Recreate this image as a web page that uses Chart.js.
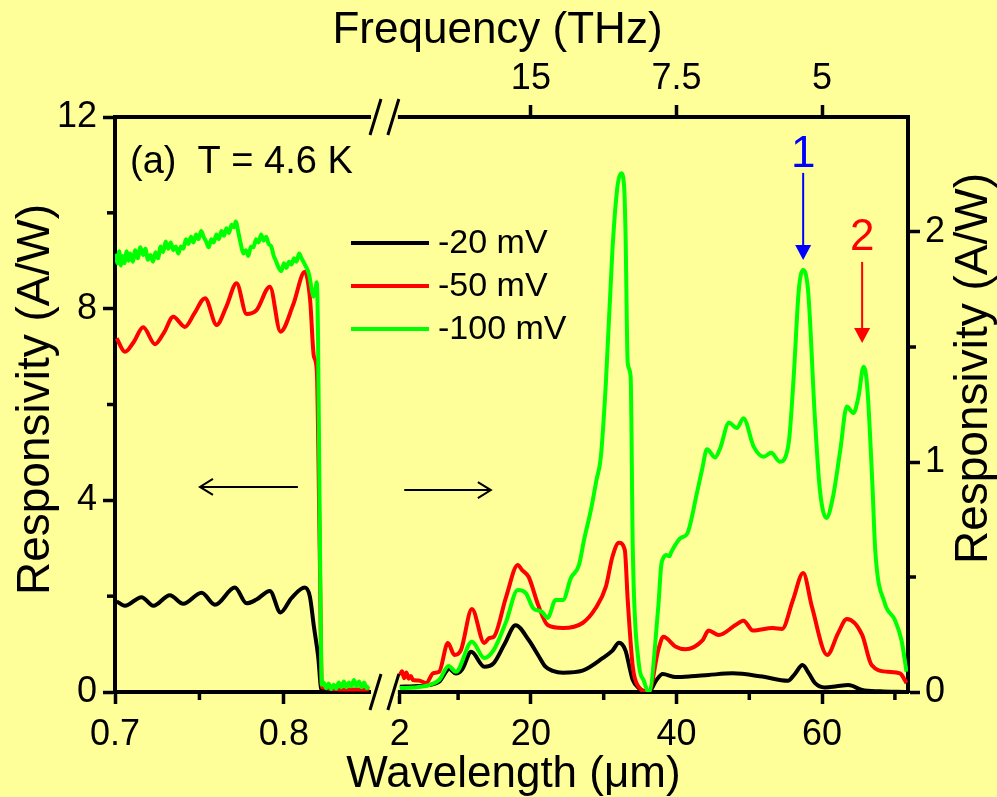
<!DOCTYPE html>
<html>
<head>
<meta charset="utf-8">
<script src="https://cdn.jsdelivr.net/npm/chart.js@4.4.1/dist/chart.umd.min.js"></script>
<style>
  html, body { margin: 0; padding: 0; background: #ffff99; }
  #wrap { width: 997px; height: 797px; }
</style>
</head>
<body>
<div id="wrap"><canvas id="respChart" width="997" height="797"></canvas></div>
<script>
// series
const seriesLabels = ['-20 mV', '-50 mV', '-100 mV'];
const seriesColors = ['#000000', '#ff0000', '#00ff00'];

// left part: 0.7 - 0.85 um, read against the left axis (A/W)
const leftWl20 = [0.701, 0.7059, 0.7157, 0.7227, 0.7325, 0.7404, 0.7513, 0.7592, 0.771, 0.7779, 0.7838, 0.7917, 0.798, 0.8045, 0.8124, 0.8154, 0.8178, 0.8203, 0.8223, 0.835, 0.8505];
const leftR20 = [1.89, 1.80, 1.98, 1.80, 2.02, 1.84, 2.07, 1.82, 2.18, 1.85, 1.93, 2.11, 1.66, 1.96, 2.18, 1.99, 1.36, 0.74, 0.04, 0.02, 0.02];

const leftWl50 = [0.701, 0.7059, 0.711, 0.7167, 0.7237, 0.729, 0.7345, 0.7414, 0.747, 0.7533, 0.7602, 0.766, 0.772, 0.7779, 0.7838, 0.7917, 0.798, 0.8055, 0.8124, 0.8155, 0.8178, 0.8195, 0.8212, 0.8225, 0.835, 0.8505];
const leftR50 = [7.38, 7.10, 7.30, 7.61, 7.26, 7.50, 7.83, 7.62, 7.90, 8.22, 7.66, 8.05, 8.53, 7.89, 7.97, 8.46, 7.52, 8.08, 8.77, 8.20, 7.00, 6.70, 3.00, 0.10, 0.05, 0.05];

const leftWl100 = [0.7005, 0.7015, 0.7025, 0.7035, 0.7045, 0.7055, 0.707, 0.708, 0.709, 0.7105, 0.712, 0.7135, 0.715, 0.7166, 0.718, 0.7195, 0.721, 0.7225, 0.724, 0.7255,
  0.727, 0.7285, 0.73, 0.7315, 0.733, 0.7345, 0.736, 0.7375, 0.739, 0.7405, 0.742, 0.7435, 0.745, 0.7465, 0.748, 0.7495, 0.751, 0.7525, 0.754, 0.7555,
  0.757, 0.7585, 0.76, 0.7615, 0.763, 0.7645, 0.766, 0.7675, 0.769, 0.7705, 0.7715, 0.773, 0.7745, 0.776, 0.7775, 0.779, 0.7805, 0.782, 0.7835, 0.785,
  0.7865, 0.788, 0.7895, 0.791, 0.7925, 0.794, 0.7955, 0.797, 0.7985, 0.8, 0.8015, 0.803, 0.8045, 0.806, 0.8075, 0.809, 0.8105, 0.812, 0.8135, 0.815,
  0.8165, 0.8175, 0.8185, 0.8195, 0.8202, 0.821, 0.8218, 0.8225, 0.8235, 0.825, 0.8265, 0.828, 0.8295, 0.831, 0.8325, 0.834, 0.8355, 0.837, 0.8385, 0.84,
  0.8415, 0.843, 0.8445, 0.846, 0.8475, 0.849, 0.8505];
const leftR100 = [9.15, 8.95, 9.20, 8.90, 9.10, 8.95, 9.20, 9.00, 9.15, 8.98, 9.22, 9.05, 9.28, 9.12, 9.25, 9.02, 9.12, 8.98, 9.18, 9.05,
  9.30, 9.18, 9.40, 9.25, 9.38, 9.22, 9.30, 9.15, 9.30, 9.25, 9.45, 9.35, 9.50, 9.38, 9.55, 9.45, 9.62, 9.50, 9.40, 9.28,
  9.45, 9.38, 9.55, 9.45, 9.62, 9.52, 9.68, 9.58, 9.75, 9.70, 9.82, 9.60, 9.35, 9.15, 9.22, 9.10, 9.30, 9.28, 9.45, 9.38,
  9.55, 9.42, 9.50, 9.35, 9.30, 9.10, 8.98, 8.85, 8.78, 8.95, 8.85, 8.98, 8.92, 9.05, 8.98, 9.15, 9.05, 8.95, 8.85, 8.70,
  8.40, 8.25, 8.35, 8.55, 7.50, 4.50, 1.50, 0.15, 0.20, 0.08, 0.18, 0.06, 0.15, 0.07, 0.20, 0.10, 0.22, 0.10, 0.20, 0.12,
  0.25, 0.12, 0.22, 0.10, 0.20, 0.08, 0.12];

// right part: 2 - 72 um, read against the right axis (A/W)
const rightWl20 = [2.0, 4.0, 6.0, 7.4, 8.8, 9.7, 10.6, 11.8, 13.6, 14.9, 16.4, 17.9, 19.7, 21.0, 22.0, 23.0, 24.4, 27.1, 29.9, 31.2, 32.1, 33.0, 33.6, 34.0, 34.8, 36.2, 37.2, 38.1, 39.9, 42.0, 44.4, 47.7, 51.8, 55.3, 56.3, 57.3, 58.2, 59.0, 60.4, 62.0, 63.6, 65.5, 68.0, 71.4];
const rightR20 = [0.023, 0.025, 0.030, 0.045, 0.100, 0.080, 0.100, 0.175, 0.110, 0.126, 0.210, 0.290, 0.226, 0.160, 0.110, 0.092, 0.084, 0.093, 0.148, 0.180, 0.214, 0.180, 0.100, 0.052, 0.017, 0.000, 0.050, 0.078, 0.065, 0.068, 0.074, 0.081, 0.067, 0.049, 0.080, 0.117, 0.080, 0.040, 0.020, 0.025, 0.030, 0.009, 0.003, 0.000];

const rightWl50 = [2.0, 2.3, 2.6, 2.9, 3.2, 3.5, 3.8, 4.6, 5.6, 6.6, 7.4, 8.6, 9.5, 10.4, 11.9, 13.6, 14.3, 14.9, 16.6, 18.2, 18.8, 19.7, 21.0, 22.3, 24.4, 27.1, 28.9, 30.3, 31.2, 32.1, 32.9, 33.3, 34.0, 34.8, 36.2, 37.5, 38.2, 39.9, 41.2, 43.6, 44.4, 45.8, 48.1, 49.2, 50.5, 53.2, 54.5, 56.0, 57.4, 58.6, 60.7, 62.2, 63.4, 65.5, 66.8, 69.0, 70.7, 71.6];
const rightR50 = [0.074, 0.090, 0.060, 0.085, 0.058, 0.070, 0.052, 0.050, 0.039, 0.082, 0.088, 0.213, 0.161, 0.183, 0.361, 0.213, 0.235, 0.240, 0.414, 0.552, 0.530, 0.500, 0.378, 0.291, 0.278, 0.300, 0.365, 0.458, 0.588, 0.649, 0.617, 0.400, 0.109, 0.023, 0.000, 0.183, 0.240, 0.197, 0.186, 0.226, 0.267, 0.248, 0.291, 0.310, 0.267, 0.278, 0.274, 0.400, 0.517, 0.371, 0.161, 0.256, 0.317, 0.248, 0.117, 0.088, 0.081, 0.039];

const rightWl100 = [2.0, 4.0, 6.0, 7.4, 8.7, 9.7, 11.9, 13.6, 14.9, 16.6, 18.2, 19.3, 20.3, 21.5, 22.3, 23.4, 24.4, 25.5, 26.6, 27.3, 28.3, 29.0, 29.6, 30.3, 31.2, 31.9, 32.4, 32.8, 33.0, 33.3, 33.7, 34.0, 34.8, 35.5, 36.2, 37.5, 37.9, 38.2, 38.6, 39.0, 39.3, 40.3, 40.6, 41.5, 42.8, 43.5, 44.2, 45.3, 46.0, 47.2, 48.3, 49.2, 50.6, 52.0, 53.0, 54.2, 55.4, 56.1, 56.8, 57.4, 58.1, 59.0, 59.7, 60.6, 61.5, 62.5, 63.4, 64.3, 65.0, 65.7, 66.2, 66.9, 67.3, 68.6, 70.0, 70.9, 71.6];
const rightR100 = [0.017, 0.020, 0.030, 0.052, 0.113, 0.088, 0.219, 0.148, 0.183, 0.306, 0.443, 0.430, 0.365, 0.349, 0.322, 0.400, 0.400, 0.496, 0.552, 0.661, 0.800, 0.920, 1.020, 1.343, 1.922, 2.200, 2.255, 2.200, 1.996, 1.430, 1.371, 0.617, 0.130, 0.050, 0.000, 0.371, 0.550, 0.583, 0.596, 0.590, 0.610, 0.661, 0.670, 0.690, 0.864, 0.965, 1.055, 1.020, 1.060, 1.171, 1.148, 1.190, 1.067, 1.023, 1.040, 1.001, 1.080, 1.371, 1.748, 1.835, 1.735, 1.197, 0.878, 0.757, 0.849, 1.052, 1.241, 1.213, 1.284, 1.414, 1.327, 0.909, 0.617, 0.387, 0.313, 0.226, 0.088];

// ticks
const bottomLeftTicks = [0.7, 0.8];
const bottomLeftMinor = [0.75];
const bottomRightTicks = [2, 20, 40, 60];
const bottomRightMinor = [10, 30, 50, 70];
const freqTicks = [15, 7.5, 5]; // THz
const leftYTicks = [0, 4, 8, 12];
const leftYMinor = [2, 6, 10];
const rightYTicks = [0, 1, 2];
const rightYMinor = [0.5, 1.5];

const BG = '#ffff99';
const FONT = '"Liberation Sans", Arial, Helvetica, sans-serif';
Chart.defaults.font.family = FONT;
Chart.defaults.color = '#000';

function makeSet(i, wl, r, xId, yId) {
    return {
        label: seriesLabels[i],
        data: wl.map((x, k) => ({ x: x, y: r[k] })),
        borderColor: seriesColors[i],
        backgroundColor: seriesColors[i],
        borderWidth: 4,
        pointRadius: 0,
        fill: false,
        cubicInterpolationMode: 'monotone',
        xAxisID: xId,
        yAxisID: yId,
        order: 2 - i // green on top
    };
}

const axisBorder = { display: true, color: '#000', width: 4 };
const axisGrid = { display: true, drawOnChartArea: false, drawTicks: true, tickLength: 12, tickWidth: 3.5, tickColor: '#000' };
const tickFont = { size: 36 };

function setTicks(list) {
    return function (scale) { scale.ticks = list.map(v => ({ value: v })); };
}

const decor = {
    id: 'decor',
    beforeDraw(chart) {
        const ctx = chart.ctx;
        ctx.save();
        ctx.fillStyle = BG;
        ctx.fillRect(0, 0, chart.width, chart.height);
        ctx.restore();
    },
    afterDraw(chart) {
        const { ctx, chartArea: ca, scales } = chart;
        const xL = scales.xL, xR = scales.xR, yL = scales.yL, yR = scales.yR;
        ctx.save();
        ctx.strokeStyle = '#000';
        ctx.lineWidth = 3.5;

        // minor ticks
        const minors = { xL: bottomLeftMinor, xR: bottomRightMinor, yL: leftYMinor, yR: rightYMinor };
        Object.keys(minors).forEach(id => {
            const s = scales[id];
            minors[id].forEach(v => {
                const p = s.getPixelForValue(v);
                ctx.beginPath();
                if (s.position === 'bottom') { ctx.moveTo(p, s.top); ctx.lineTo(p, s.top + 8); }
                else if (s.position === 'left') { ctx.moveTo(s.right, p); ctx.lineTo(s.right - 8, p); }
                else { ctx.moveTo(s.left, p); ctx.lineTo(s.left + 8, p); }
                ctx.stroke();
            });
        });

        // axis breaks
        const bx0 = xL.right;
        const bx1 = xR.getPixelForValue(bottomRightTicks[0]);
        [ca.bottom, ca.top].forEach(y => {
            ctx.fillStyle = BG;
            ctx.fillRect(bx0 + 1, y - 4, bx1 - bx0 - 3, 8);
            ctx.lineWidth = 3;
            ctx.beginPath();
            ctx.moveTo(bx0, y + 18); ctx.lineTo(bx0 + 11, y - 18);
            ctx.moveTo(bx1 - 12, y + 18); ctx.lineTo(bx1 - 1, y - 18);
            ctx.stroke();
        });

        // axis titles
        ctx.fillStyle = '#000';
        ctx.font = '44px ' + FONT;
        ctx.textAlign = 'center';
        ctx.textBaseline = 'alphabetic';
        const cx = (ca.left + ca.right) / 2, cy = (ca.top + ca.bottom) / 2;
        ctx.fillText('Wavelength (\u03bcm)', cx + 2, ca.bottom + 95);
        ctx.fillText('Frequency (THz)', cx - 14, ca.top - 74);
        ctx.font = '46px ' + FONT;
        ctx.save();
        ctx.translate(ca.left - 66, cy - 5);
        ctx.rotate(-Math.PI / 2);
        ctx.fillText('Responsivity (A/W)', 0, 0);
        ctx.restore();
        ctx.save();
        ctx.translate(ca.right + 79, cy - 36);
        ctx.rotate(-Math.PI / 2);
        ctx.fillText('Responsivity (A/W)', 0, 0);
        ctx.restore();

        // label (a)
        ctx.textAlign = 'left';
        ctx.font = '38px ' + FONT;
        ctx.fillText('(a)  T = 4.6 K', xL.getPixelForValue(0.7089), yL.getPixelForValue(10.83));

        // legend
        ctx.font = '34px ' + FONT;
        ctx.textBaseline = 'middle';
        seriesLabels.forEach((lab, i) => {
            const y = ca.top + 126 + i * 43;
            ctx.strokeStyle = seriesColors[i];
            ctx.lineWidth = 4;
            ctx.beginPath();
            ctx.moveTo(ca.left + 236, y); ctx.lineTo(ca.left + 314, y);
            ctx.stroke();
            ctx.fillStyle = '#000';
            ctx.fillText(lab, ca.left + 323, y + 1);
        });

        // horizontal arrows (which axis to read)
        function hArrow(x0, x1, y, head) {
            ctx.strokeStyle = '#000';
            ctx.lineWidth = 2;
            ctx.beginPath();
            ctx.moveTo(x0, y); ctx.lineTo(x1, y);
            const d = head === x0 ? 1 : -1;
            ctx.moveTo(head + d * 13, y - 8); ctx.lineTo(head, y); ctx.lineTo(head + d * 13, y + 8);
            ctx.stroke();
        }
        const la0 = xL.getPixelForValue(0.7503), la1 = xL.getPixelForValue(0.8083);
        hArrow(la0, la1, yL.getPixelForValue(4.28), la0);
        const ra0 = xR.getPixelForValue(2.6), ra1 = xR.getPixelForValue(14.5);
        hArrow(ra0, ra1, yR.getPixelForValue(0.878), ra1);

        // peak markers 1 and 2
        function vArrow(wl, top, tip, color, txt, txtY) {
            const x = xR.getPixelForValue(wl);
            const y0 = yR.getPixelForValue(top), y1 = yR.getPixelForValue(tip);
            ctx.strokeStyle = color;
            ctx.fillStyle = color;
            ctx.lineWidth = 2;
            ctx.beginPath();
            ctx.moveTo(x, y0); ctx.lineTo(x, y1 - 12);
            ctx.stroke();
            ctx.beginPath();
            ctx.moveTo(x - 8, y1 - 15); ctx.lineTo(x + 8, y1 - 15); ctx.lineTo(x, y1);
            ctx.closePath();
            ctx.fill();
            ctx.font = '44px ' + FONT;
            ctx.textAlign = 'center';
            ctx.textBaseline = 'alphabetic';
            ctx.fillText(txt, x, yR.getPixelForValue(txtY));
        }
        vArrow(57.4, 2.257, 1.878, '#0000ff', '1', 2.283);
        vArrow(65.5, 1.870, 1.517, '#ff0000', '2', 1.922);

        ctx.restore();
    }
};

new Chart(document.getElementById('respChart').getContext('2d'), {
    type: 'line',
    data: {
        datasets: [
            makeSet(0, leftWl20, leftR20, 'xL', 'yL'),
            makeSet(1, leftWl50, leftR50, 'xL', 'yL'),
            makeSet(2, leftWl100, leftR100, 'xL', 'yL'),
            makeSet(0, rightWl20, rightR20, 'xR', 'yR'),
            makeSet(1, rightWl50, rightR50, 'xR', 'yR'),
            makeSet(2, rightWl100, rightR100, 'xR', 'yR')
        ]
    },
    options: {
        responsive: false,
        animation: false,
        events: [],
        layout: { padding: 0 },
        plugins: { legend: { display: false }, tooltip: { enabled: false }, title: { display: false } },
        scales: {
            xL: {
                type: 'linear', position: 'bottom', stack: 'bottom', stackWeight: 255, weight: 0,
                min: 0.7, max: 0.851,
                afterBuildTicks: setTicks(bottomLeftTicks),
                afterFit: s => { s.height = 105; },
                ticks: { font: tickFont, padding: 9, maxRotation: 0, autoSkip: false, callback: v => String(v) },
                grid: axisGrid, border: axisBorder
            },
            xR: {
                type: 'linear', position: 'bottom', stack: 'bottom', stackWeight: 538, weight: 1,
                min: -2.1, max: 71.8,
                afterBuildTicks: setTicks(bottomRightTicks),
                afterFit: s => { s.height = 105; },
                ticks: { font: tickFont, padding: 9, maxRotation: 0, autoSkip: false, callback: v => String(v) },
                grid: axisGrid, border: axisBorder
            },
            xTL: {
                type: 'linear', position: 'top', stack: 'top', stackWeight: 255, weight: 1,
                min: 0.7, max: 0.851,
                afterFit: s => { s.height = 117; },
                ticks: { display: false },
                grid: { display: false }, border: axisBorder
            },
            xTR: {
                type: 'linear', position: 'top', stack: 'top', stackWeight: 538, weight: 0,
                min: -2.1, max: 71.8,
                afterBuildTicks: setTicks(freqTicks.map(f => 300 / f)),
                afterFit: s => { s.height = 117; },
                ticks: { font: tickFont, padding: 4, maxRotation: 0, autoSkip: false, callback: v => String(300 / v) },
                grid: axisGrid, border: axisBorder
            },
            yL: {
                type: 'linear', position: 'left', min: 0, max: 12,
                afterBuildTicks: setTicks(leftYTicks),
                afterFit: s => { s.width = 115; },
                ticks: { font: tickFont, padding: 6, autoSkip: false, callback: v => String(v) },
                grid: axisGrid, border: axisBorder
            },
            yR: {
                type: 'linear', position: 'right', min: 0, max: 2.5,
                afterBuildTicks: setTicks(rightYTicks),
                afterFit: s => { s.width = 89; },
                ticks: { font: tickFont, padding: 5, autoSkip: false, callback: v => String(v) },
                grid: axisGrid, border: axisBorder
            }
        }
    },
    plugins: [decor]
});
</script>
</body>
</html>
